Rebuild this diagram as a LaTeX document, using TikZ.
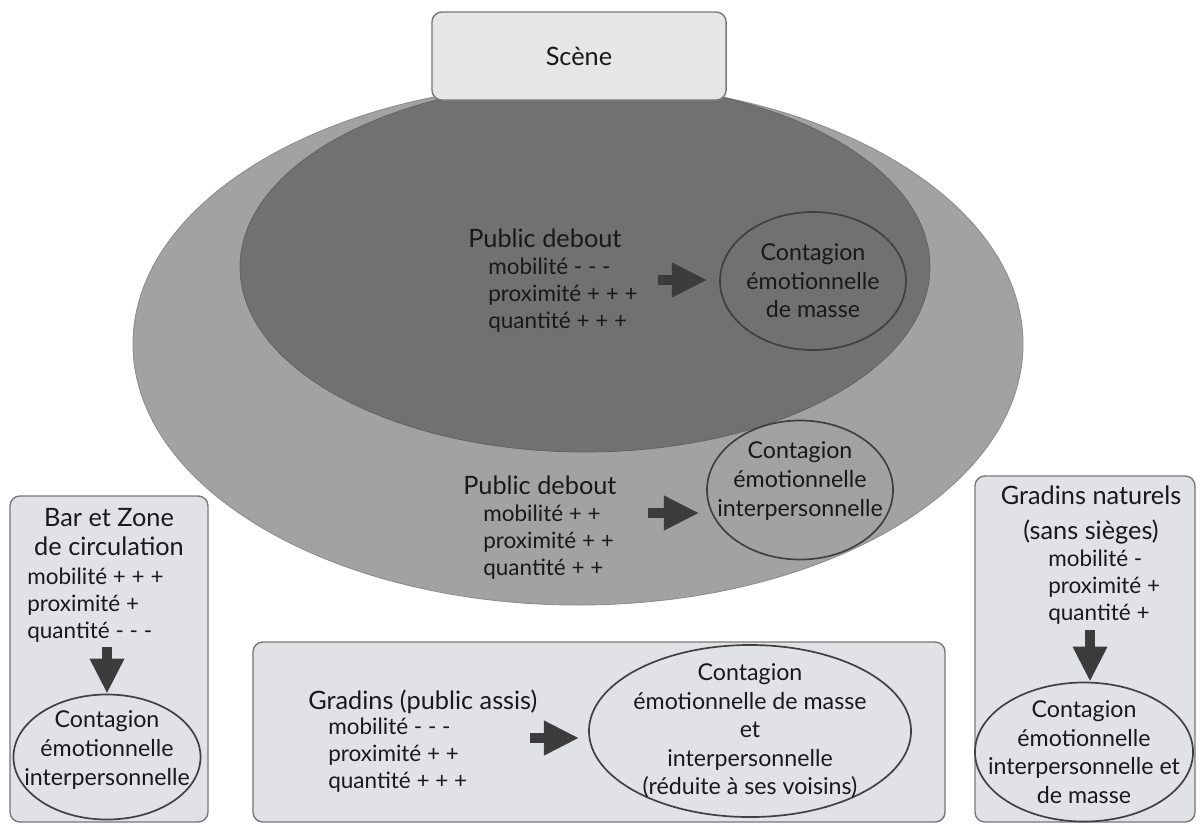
\documentclass[tikz,border=0pt]{standalone}
\usepackage{fontspec}
\setmainfont{Lato}
\usepackage{xcolor}
\definecolor{outergray}{RGB}{162,162,162}
\definecolor{innergray}{RGB}{113,113,113}
\definecolor{boxgray}{RGB}{225,226,230}
\definecolor{scenegray}{RGB}{230,230,230}
\definecolor{edgegray}{RGB}{120,120,120}
\definecolor{arrowgray}{RGB}{60,60,60}
\definecolor{inkgray}{RGB}{25,25,25}
\usepackage{tikz}
\usetikzlibrary{arrows.meta,shapes.geometric}

\newcommand{\titlefont}{\fontsize{18}{21.3}\selectfont}
\newcommand{\listfont}{\fontsize{16}{19.2}\selectfont}
\newcommand{\contfont}{\fontsize{16.5}{20.3}\selectfont}

\begin{document}
\begin{tikzpicture}[x=0.025cm, y=-0.025cm,
  every node/.style={inner sep=0pt, text=inkgray},
  zone/.style={draw=edgegray, line width=1pt, fill=boxgray, rounded corners=7pt},
  contag/.style={ellipse, draw=black!75, line width=1.2pt},
  conttext/.style={font=\contfont, align=center},
  fatarrow/.style={draw=arrowgray, line width=7pt, -{Triangle[length=25pt,width=23pt]}},
  head/.style={font=\titlefont, align=center},
  crit/.style={font=\listfont, align=left, anchor=west}]
  \useasboundingbox (0,0) rectangle (1200,825);

  % Salle
  \filldraw[fill=outergray, draw=black!45, line width=0.6pt] (578,344) ellipse [x radius=445, y radius=261];
  \filldraw[fill=innergray, draw=black!62, line width=0.5pt] (585,267) ellipse [x radius=345, y radius=185];
  \node[zone, fill=scenegray, minimum width=7.35cm, minimum height=2.2cm, font=\titlefont] (scene) at (579,56) {Scène};

  % Public debout (centre)
  \node[head, anchor=west] (pd1) at (468,238) {Public debout};
  \node[crit] (pd1list) at (488,295) {mobilité - - -\\proximité + + +\\quantité + + +};
  \node[contag, minimum width=4.65cm, minimum height=3.45cm] (cont1) at (813,281) {};
  \node[conttext] (cont1text) at (cont1) {Contagion\\émotionnelle\\de masse};
  \coordinate (a1) at (658,280);
  \draw[fatarrow, shorten >=0.3cm] (a1) -- (a1 -| cont1.west);

  % Public debout (bord)
  \node[head, anchor=west] (pd2) at (463,485) {Public debout};
  \node[crit] (pd2list) at (483,542) {mobilité + +\\proximité + +\\quantité + +};
  \node[contag, minimum width=4.65cm, minimum height=3.475cm] (cont2) at (800,490) {};
  \node[conttext] (cont2text) at (800,481) {Contagion\\émotionnelle\\interpersonnelle};
  \coordinate (a2) at (648,513);
  \draw[fatarrow, shorten >=0.175cm] (a2) -- (a2 -| cont2.west);

  % Bar et Zone de circulation
  \draw[zone] (10,496) rectangle (208,822);
  \node[head] (bar) at (109,532) {Bar et Zone\\de circulation};
  \node[crit] (barlist) at (27,605) {mobilité + + +\\proximité +\\quantité - - -};
  \node[contag, minimum width=4.675cm, minimum height=3.125cm] (cont3) at (107,757) {};
  \node[conttext] (cont3text) at (107,750) {Contagion\\émotionnelle\\interpersonnelle};
  \coordinate (a3) at (107,647);
  \draw[fatarrow] (a3) -- (a3 |- cont3.north);

  % Gradins naturels
  \draw[zone] (975,476) rectangle (1195,822);
  \node[head] (nat) at (1091,515) {Gradins naturels\\[3pt](sans sièges)};
  \node[crit] (natlist) at (1048,587) {mobilité -\\proximité +\\quantité +};
  \node[contag, minimum width=5.45cm, minimum height=3.475cm] (cont4) at (1084,752) {};
  \node[conttext] (cont4text) at (cont4) {Contagion\\émotionnelle\\interpersonnelle et\\de masse};
  \coordinate (a4) at (1090,630);
  \draw[fatarrow] (a4) -- (a4 |- cont4.north);

  % Gradins (public assis)
  \draw[zone] (253,642) rectangle (945,822);
  \node[head, anchor=west] (assis) at (308,702) {Gradins (public assis)};
  \node[crit] (assislist) at (328,755) {mobilité - - -\\proximité + +\\quantité + + +};
  \node[contag, minimum width=8.05cm, minimum height=4.3cm] (cont5) at (750,731) {};
  \node[conttext] (cont5text) at (cont5) {Contagion\\émotionnelle de masse\\et\\interpersonnelle\\(réduite à ses voisins)};
  \coordinate (a5) at (530,738);
  \draw[fatarrow, shorten >=0.225cm] (a5) -- (a5 -| cont5.west);
\end{tikzpicture}
\end{document}
